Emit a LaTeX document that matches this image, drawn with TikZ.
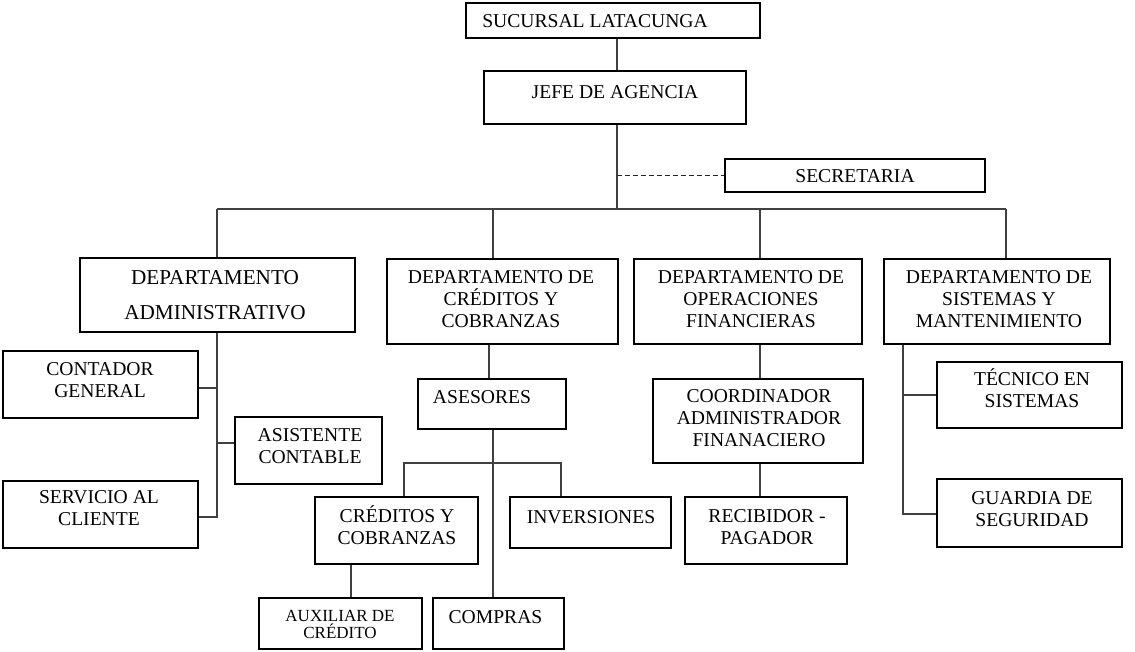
\documentclass[tikz,border=0pt]{standalone}
\usepackage{fontspec}
\setmainfont{Liberation Serif}
\newcommand\bx[5]{\node[box,minimum width={(#4-#2)*1pt},minimum height={(#5-#3)*1pt}] (#1) at ({(#2+#4)/2},{(#3+#5)/2}) {};}
\begin{document}
\begin{tikzpicture}[x=1pt,y=-1pt,
  box/.style={draw=black,line width=1.2pt,inner sep=0pt,rectangle},
  txt/.style={inner sep=0pt,align=center,font=\fontsize{19.6}{22}\selectfont},
  conn/.style={draw=black!75,line width=1.2pt},
  dsh/.style={conn,line width=1.3pt,draw=black!85,dash pattern=on 5pt off 3pt}]
\fill[white] (0,0) rectangle (1135,651);
\useasboundingbox (0,0) rectangle (1135,651);
% boxes
\bx{suc}{466}{3}{760}{38}
\bx{jefe}{484}{71}{746}{124}
\bx{sec}{725}{159}{985}{192}
\bx{admin}{80}{258}{355}{332}
\bx{cred}{387}{259}{618}{344}
\bx{oper}{634}{259}{862}{344}
\bx{sis}{884}{259}{1110}{344}
\bx{cont}{3}{351}{198}{418}
\bx{asis}{235}{417}{382}{484}
\bx{serv}{3}{481}{198}{548}
\bx{ases}{418}{379}{566}{429}
\bx{credsub}{315}{497}{478}{564}
\bx{inv}{510}{497}{671}{548}
\bx{aux}{259}{598}{422}{649}
\bx{comp}{433}{598}{564}{649}
\bx{coord}{653}{379}{863}{463}
\bx{recib}{685}{497}{847}{564}
\bx{tec}{937}{362}{1122}{428}
\bx{guard}{937}{479}{1122}{547}
% texts
\node[txt] (t-suc) at (595,21) {SUCURSAL LATACUNGA};
\node[txt] (t-jefe) at (615,92) {JEFE DE AGENCIA};
\node[txt] (t-sec) at (855,176) {SECRETARIA};
\node[txt,font=\fontsize{21.2}{35}\selectfont] (t-admin) at (215,295.5) {DEPARTAMENTO\\ADMINISTRATIVO};
\node[txt] (t-cred) at (501,299) {DEPARTAMENTO DE\\CRÉDITOS Y\\COBRANZAS};
\node[txt] (t-oper) at (751,299) {DEPARTAMENTO DE\\OPERACIONES\\FINANCIERAS};
\node[txt] (t-sis) at (999,299) {DEPARTAMENTO DE\\SISTEMAS Y\\MANTENIMIENTO};
\node[txt] (t-cont) at (100,380) {CONTADOR\\GENERAL};
\node[txt] (t-asis) at (310,446) {ASISTENTE\\CONTABLE};
\node[txt] (t-serv) at (99,508) {SERVICIO AL\\CLIENTE};
\node[txt] (t-ases) at (482,397) {ASESORES};
\node[txt] (t-credsub) at (397,527) {CR\smash{É}DITOS Y\\COBRANZAS};
\node[txt] (t-inv) at (591,517) {INVERSIONES};
\node[txt,font=\fontsize{17}{17}\selectfont] (t-aux) at (340,624.5) {AUXILIAR DE\\CR\smash{É}DITO};
\node[txt] (t-comp) at (495.5,617) {COMPRAS};
\node[txt] (t-coord) at (759,418) {COORDINADOR\\ADMINISTRADOR\\FINANACIERO};
\node[txt] (t-recib) at (767,527) {RECIBIDOR -\\PAGADOR};
\node[txt] (t-tec) at (1032,390) {T\smash{É}CNICO EN\\SISTEMAS};
\node[txt] (t-guard) at (1032,509) {GUARDIA DE\\SEGURIDAD};
% junctions
\coordinate (bj) at (617,209);
\coordinate (bl) at (217,209);
\coordinate (br) at (1006,209);
\coordinate (d2) at (493,209);
\coordinate (d3) at (760,209);
\coordinate (at) at (217,517);
\coordinate (ac) at (217,388);
\coordinate (aa) at (217,443);
\coordinate (c1) at (489,361);
\coordinate (c2) at (493,463);
\coordinate (c3) at (404,463);
\coordinate (c4) at (561,463);
\coordinate (c5) at (351,580);
\coordinate (s1) at (903,514);
\coordinate (s2) at (903,395);
% connectors
\draw[conn] (suc.south -| bj) -- (jefe.north -| bj);
\draw[conn] (jefe.south -| bj) -- (bj);
\draw[dsh] (sec.west -| bj) -- (sec.west);
\draw[conn] (bl) -- (br);
\draw[conn] (bl) -- (admin.north -| bl);
\draw[conn] (d2) -- (cred.north -| d2);
\draw[conn] (d3) -- (oper.north -| d3);
\draw[conn] (br) -- (sis.north -| br);
\draw[conn] (admin.south -| at) -- (at) -- (serv.east |- at);
\draw[conn] (ac) -- (cont.east |- ac);
\draw[conn] (aa) -- (asis.west |- aa);
\draw[conn] (cred.south -| c1) -- (ases.north -| c1);
\draw[conn] (ases.south -| c2) -- (comp.north -| c2);
\draw[conn] (credsub.north -| c3) -- (c3) -- (c4) -- (inv.north -| c4);
\draw[conn] (credsub.south -| c5) -- (aux.north -| c5);
\draw[conn] (oper.south -| d3) -- (coord.north -| d3);
\draw[conn] (coord.south -| d3) -- (recib.north -| d3);
\draw[conn] (sis.south -| s1) -- (s1) -- (guard.west |- s1);
\draw[conn] (s2) -- (tec.west |- s2);
\end{tikzpicture}
\end{document}
